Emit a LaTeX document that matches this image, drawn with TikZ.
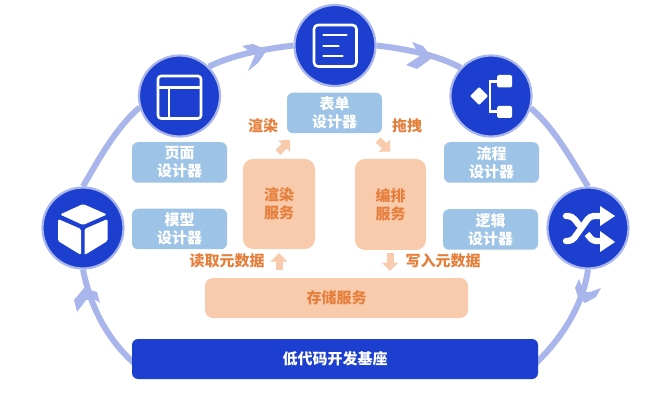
\documentclass[tikz,border=0pt]{standalone}
\usepackage{fontspec}
\setmainfont{Noto Sans CJK SC}
\usetikzlibrary{arrows.meta}
\pgfdeclarelayer{under}
\pgfsetlayers{under,main}
\definecolor{deep}{HTML}{1D3FCF}
\definecolor{halo}{HTML}{A9B6EC}
\definecolor{sky}{HTML}{9DC3E6}
\definecolor{peach}{HTML}{F8CBAD}
\definecolor{rust}{HTML}{E67F3C}
\tikzset{
  hub/.style={circle,draw=halo,line width=2.2pt,fill=deep,minimum size=81pt,inner sep=0pt},
  rim/.style={draw=halo,line width=6pt},
  barb/.style={fill=halo,draw=none},
  tool/.style={draw=none,fill=sky,rounded corners=6pt,text=white,font=\fontsize{15}{18}\selectfont\bfseries,align=center,minimum width=95pt,minimum height=40.5pt,inner sep=0pt},
  svc/.style={draw=none,fill=peach,rounded corners=10pt,text=rust,font=\fontsize{15}{18}\selectfont\bfseries,align=center,inner sep=0pt},
  note/.style={text=rust,font=\fontsize{15}{18}\selectfont\bfseries,inner sep=0pt},
  flowarrow/.style={draw=peach,line width=7pt,-{Triangle[width=16pt,length=8.5pt]}},
  glyphline/.style={draw=white,line width=2.6pt,line cap=round,line join=round},
}
\begin{document}
\begin{tikzpicture}[x=1pt,y=-1pt]
\useasboundingbox (0,0) rectangle (666,403);
% hubs
\node[hub] (model) at (83,228) {};
\node[hub] (page) at (179.5,96) {};
\node[hub] (form) at (335,45.5) {};
\node[hub] (flow) at (491,96) {};
\node[hub] (logic) at (588,228) {};
% base
\node[draw=none,fill=deep,rounded corners=6pt,text=white,font=\fontsize{15}{18}\selectfont\bfseries,minimum width=406pt,minimum height=40pt,inner sep=0pt] (base) at (335,359) {低代码开发基座};
\coordinate (baseL) at (134,363);
\coordinate (baseR) at (536,363);
% rim
\begin{pgfonlayer}{under}
\fill[white] (0,0) rectangle (666,403);
\draw[rim] (model.north) .. controls (99,159) and (115,129) .. (page.196);
\draw[rim] (page.45) .. controls (235,54) and (265,49) .. (form.west);
\draw[rim] (form.east) .. controls (405,49) and (435,54) .. (flow.137);
\draw[rim] (flow.-17) .. controls (555,129) and (571,159) .. (logic.north);
\draw[rim] (baseL) .. controls (106,338) and (90,305) .. (model.south);
\draw[rim] (baseR) .. controls (562,338) and (583,305) .. (logic.south);
% barbs
\fill[barb] (242,46)--(253,44)--(267,50)--(258,63)--(248,71)--(255,55)--cycle;
\fill[barb] (412,42)--(423,46)--(432,58)--(417,69)--(406,65)--(420,56)--cycle;
\fill[barb] (84,288)--(74,300)--(77,312)--(86,300)--(94,299)--(100,303)--(97,292)--cycle;
\fill[barb] (579,279)--(575,288)--(578,297)--(585,303)--(596,297)--(601,288)--(590,292)--(584,292)--cycle;
\end{pgfonlayer}
% tool boxes
\node[tool] (tpage) at (179.5,162.5) {页面\\设计器};
\node[tool] (tmodel) at (179.5,229) {模型\\设计器};
\node[tool] (tform) at (334.5,113) {表单\\设计器};
\node[tool] (tflow) at (491.5,162.5) {流程\\设计器};
\node[tool] (tlogic) at (490.5,229.5) {逻辑\\设计器};
% services
\node[svc,minimum width=72pt,minimum height=90pt] (render) at (279,204) {渲染\\服务};
\node[svc,minimum width=71pt,minimum height=91pt] (orch) at (390.5,204.5) {编排\\服务};
\node[svc,rounded corners=8pt,minimum width=263pt,minimum height=40pt] (store) at (336.5,298) {存储服务};
% flow arrows
\coordinate (a1s) at (279,270); \coordinate (a1e) at (279,253);
\coordinate (a2s) at (390,253); \coordinate (a2e) at (390,271);
\coordinate (a3s) at (278,152.5); \coordinate (a3e) at (290,140);
\coordinate (a4s) at (378,140); \coordinate (a4e) at (390.5,151.5);
\draw[flowarrow] (a1s) -- (a1e);
\draw[flowarrow] (a2s) -- (a2e);
\draw[flowarrow] (a3s) -- (a3e);
\draw[flowarrow] (a4s) -- (a4e);
% notes
\node[note] (n1) at (263,126) {渲染};
\node[note] (n2) at (407,126) {拖拽};
\node[note] (n3) at (227,261) {读取元数据};
\node[note] (n4) at (443,261) {写入元数据};
% page glyph
\draw[glyphline,rounded corners=3pt] (158,76) rectangle (201,118.5);
\draw[glyphline,line cap=butt] (158,87.5) -- (201,87.5) (169,87.5) -- (169,118.5);
% form glyph
\draw[glyphline,rounded corners=4pt] (314,25) rectangle (356.5,66.5);
\draw[glyphline] (323.5,35) -- (346.5,35) (323.5,46) -- (338.5,46) (323.5,56) -- (342.5,56);
% flow glyph
\fill[white,rounded corners=1pt] (479,87)--(488,96)--(479,105)--(470,96)--cycle;
\draw[white,line width=2.4pt] (498,81.5) -- (490,81.5) -- (490,111.5) -- (498,111.5);
\fill[white,rounded corners=1.5pt] (497,75) rectangle (512,87.5);
\fill[white,rounded corners=1.5pt] (497,106) rectangle (512,118);
% cube glyph
\fill[white,rounded corners=1.5pt] (83,204)--(107,214.5)--(83,225)--(60,214.5)--cycle;
\fill[white,rounded corners=1.5pt] (58,219)--(81,229)--(81,255)--(58,241)--cycle;
\fill[white,rounded corners=1.5pt] (84.5,229)--(107.5,219)--(107.5,241)--(84.5,255)--cycle;
% shuffle glyph
\draw[white,line width=6.3pt,line cap=round,rounded corners=4pt] (566,216)--(572,216)--(579,225);
\draw[white,line width=6.3pt,rounded corners=3pt] (587,234)--(593,241)--(602,241);
\draw[white,line width=6.3pt,line cap=round,rounded corners=4pt] (566,241)--(572,241)--(590,216)--(602,216);
\fill[white] (600,206)--(615,216)--(600,226)--cycle;
\fill[white] (600,231)--(615,242)--(600,252)--cycle;
\end{tikzpicture}
\end{document}
